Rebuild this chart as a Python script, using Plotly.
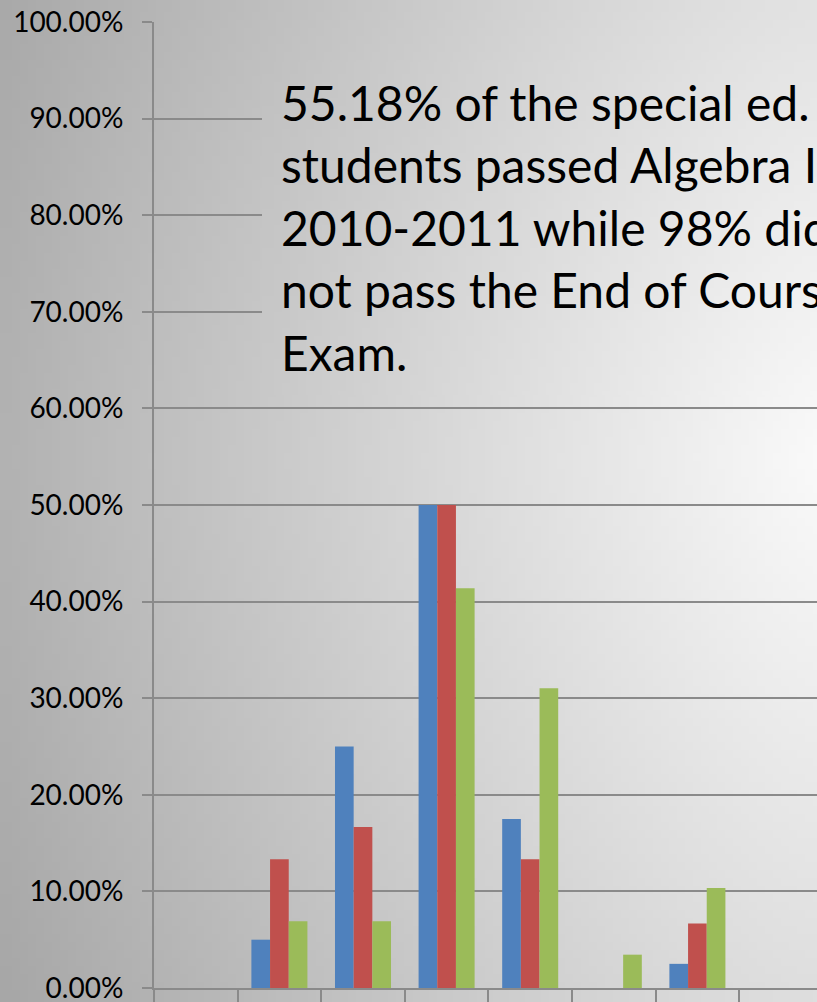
import base64
import struct
import zlib

import plotly.graph_objects as go

# ── data ──────────────────────────────────────────────────────────────────────
grades = ["A", "B", "C", "D", "F", "FF", "WC", "NC"]
series_1 = [0.0, 0.05, 0.25, 0.50, 0.175, 0.0, 0.025, 0.0]
series_2 = [0.0, 0.1333, 0.1667, 0.50, 0.1333, 0.0, 0.0667, 0.0]
series_3 = [0.0, 0.0690, 0.0690, 0.4138, 0.3103, 0.0345, 0.1034, 0.0]
y_ticks = [i / 10 for i in range(11)]

note_lines = [
    "55.18% of the special ed. students",
    "students passed Algebra I in",
    "2010-2011 while 98% did",
    "not pass the End of Course",
    "Exam.",
]

# ── geometry (pixels in the 817x1002 page) ────────────────────────────────────
W, H = 817, 1002
L, R, T, B = 154, 0, 22, 14
PW, PH = W - L - R, H - T - B
CAT_W = 83.6


def paper_x(px):
    return (px - L) / PW


def paper_y(py):
    return (H - B - py) / PH


def shade(x, y):
    u = max(0.0, (W - x) / W)
    w = abs(y - 460) / 540
    drop = ((72 * u) ** 1.5 + (28 * w) ** 1.5) ** (1 / 1.5)
    return int(max(0, min(255, 250 - drop)))


def gradient_uri(x0, y0, x1, y1, nx, ny):
    raw = bytearray()
    for j in range(ny):
        raw.append(0)
        y = y0 + (y1 - y0) * (j + 0.5) / ny
        for i in range(nx):
            x = x0 + (x1 - x0) * (i + 0.5) / nx
            raw.append(shade(x, y))

    def chunk(tag, data):
        c = struct.pack(">I", len(data)) + tag + data
        return c + struct.pack(">I", zlib.crc32(tag + data) & 0xFFFFFFFF)

    png = b"\x89PNG\r\n\x1a\n"
    png += chunk(b"IHDR", struct.pack(">IIBBBBB", nx, ny, 8, 0, 0, 0, 0))
    png += chunk(b"IDAT", zlib.compress(bytes(raw), 9))
    png += chunk(b"IEND", b"")
    return "data:image/png;base64," + base64.b64encode(png).decode()


# text box region that hides the gridlines behind the note
BX0, BY0, BX1, BY1 = 262, 62, 830, 395

fig = go.Figure()
for name, vals, color in [
    ("Series 1", series_1, "#4f81bd"),
    ("Series 2", series_2, "#c0504d"),
    ("Series 3", series_3, "#9bbb59"),
]:
    fig.add_trace(go.Bar(x=grades, y=vals, name=name, marker_color=color,
                         marker_line_width=0))

fig.update_layout(
    width=W,
    height=H,
    margin=dict(l=L, r=R, t=T, b=B, autoexpand=False),
    paper_bgcolor="#d0d0d0",
    plot_bgcolor="rgba(0,0,0,0)",
    showlegend=False,
    barmode="group",
    bargap=0.33,
    bargroupgap=0,
    font=dict(family="Lato", color="black"),
    images=[
        dict(source=gradient_uri(0, 0, W, H, 102, 125), xref="paper", yref="paper",
             x=paper_x(0), y=paper_y(0), sizex=W / PW, sizey=H / PH,
             xanchor="left", yanchor="top", sizing="stretch", layer="below"),
        dict(source=gradient_uri(BX0, BY0, BX1, BY1, 71, 42), xref="paper", yref="paper",
             x=paper_x(BX0), y=paper_y(BY0), sizex=(BX1 - BX0) / PW,
             sizey=(BY1 - BY0) / PH, xanchor="left", yanchor="top",
             sizing="stretch", layer="above"),
    ],
    annotations=[
        dict(text="<br>".join(note_lines), xref="paper", yref="paper",
             x=paper_x(279), y=paper_y(72), xanchor="left", yanchor="top",
             align="left", showarrow=False,
             font=dict(family="Lato", size=48, color="black")),
    ],
)

fig.update_yaxes(
    range=[0, 1],
    tickvals=y_ticks,
    tickformat=".2%",
    showgrid=True,
    gridcolor="#8a8a8a",
    gridwidth=2,
    showline=True,
    linecolor="#8a8a8a",
    linewidth=2,
    ticks="outside",
    ticklen=10,
    tickwidth=2,
    tickcolor="#8a8a8a",
    ticklabelstandoff=13,
    ticklabeloverflow="allow",
    tickfont=dict(size=28),
    zeroline=False,
    automargin=False,
)

fig.update_xaxes(
    range=[-0.5, -0.5 + PW / CAT_W],
    showline=True,
    linecolor="#8a8a8a",
    linewidth=2,
    ticks="outside",
    tickson="boundaries",
    ticklen=20,
    tickwidth=2,
    tickcolor="#8a8a8a",
    tickfont=dict(size=28),
    ticklabeloverflow="allow",
    automargin=False,
)

fig.write_html(
    "out.html",
    config={"displayModeBar": False},
    post_script="document.body.style.margin='0px';",
)
